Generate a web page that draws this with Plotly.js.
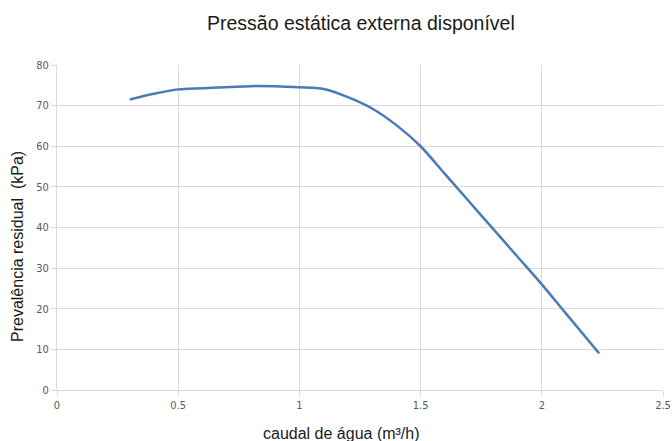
<!DOCTYPE html>
<html>
<head>
<meta charset="utf-8">
<script src="https://cdn.plot.ly/plotly-3.0.1.min.js"></script>
<style>html,body{margin:0;padding:0;background:#fff;}#chart{width:672px;height:441px;}</style>
</head>
<body>
<div id="chart"></div>
<script>
const flowValues = [0.3, 0.4, 0.5, 0.6, 0.8, 1.0, 1.1, 1.2, 1.3, 1.4, 1.5, 1.6, 1.7, 1.8, 1.9, 2.0, 2.1, 2.237];
const pressureValues = [71.5, 72.9, 74.0, 74.3, 74.8, 74.5, 74.1, 72.1, 69.3, 65.2, 60.0, 53.2, 46.4, 39.6, 32.8, 26.0, 18.8, 9.0];
const xTicks = [0, 0.5, 1, 1.5, 2, 2.5];
const xTickLabels = ['0', '0.5', '1', '1.5', '2', '2.5'];
const yTicks = [0, 10, 20, 30, 40, 50, 60, 70, 80];

const tickFont = {family: '"Liberation Sans Narrow", "DejaVu Sans Condensed", Arial, sans-serif', size: 11, color: '#595959'};
const labelFont = {family: '"Liberation Sans", Arial, sans-serif', size: 16, color: '#1a1a1a'};

Plotly.newPlot('chart', [{
  x: flowValues,
  y: pressureValues,
  type: 'scatter',
  mode: 'lines',
  line: {color: '#4a7ab7', width: 2.5, shape: 'spline', smoothing: 0.8},
  hoverinfo: 'skip'
}], {
  width: 672, height: 441,
  margin: {l: 57, r: 9, t: 65, b: 51},
  paper_bgcolor: '#fff', plot_bgcolor: '#fff',
  showlegend: false,
  title: {text: 'Pressão estática externa disponível', font: {family: '"Liberation Sans", Arial, sans-serif', size: 19.5, color: '#1a1a1a'}, x: 0.537, xanchor: 'center', y: 0.948, yanchor: 'middle'},
  xaxis: {
    range: [0, 2.5], tickvals: xTicks, ticktext: xTickLabels,
    showgrid: true, gridcolor: '#d9d9d9', gridwidth: 1,
    showline: true, linecolor: '#d9d9d9', linewidth: 1,
    ticks: 'outside', ticklen: 5, tickcolor: '#d9d9d9',
    zeroline: false, tickfont: tickFont
  },
  yaxis: {
    range: [0, 80], tickvals: yTicks,
    showgrid: true, gridcolor: '#d9d9d9', gridwidth: 1,
    showline: true, linecolor: '#d9d9d9', linewidth: 1,
    ticks: 'outside', ticklen: 5, tickcolor: '#d9d9d9',
    zeroline: false, tickfont: tickFont
  },
  annotations: [
    {text: 'caudal de água (m³/h)', xref: 'paper', yref: 'paper', x: 0.47, y: -0.135, xanchor: 'center', yanchor: 'middle', showarrow: false, font: labelFont},
    {text: 'Prevalência residual  (kPa)', xref: 'paper', yref: 'paper', x: -0.066, y: 0.44, xanchor: 'center', yanchor: 'middle', textangle: -90, showarrow: false, font: labelFont}
  ]
}, {staticPlot: true, displayModeBar: false});
</script>
</body>
</html>
